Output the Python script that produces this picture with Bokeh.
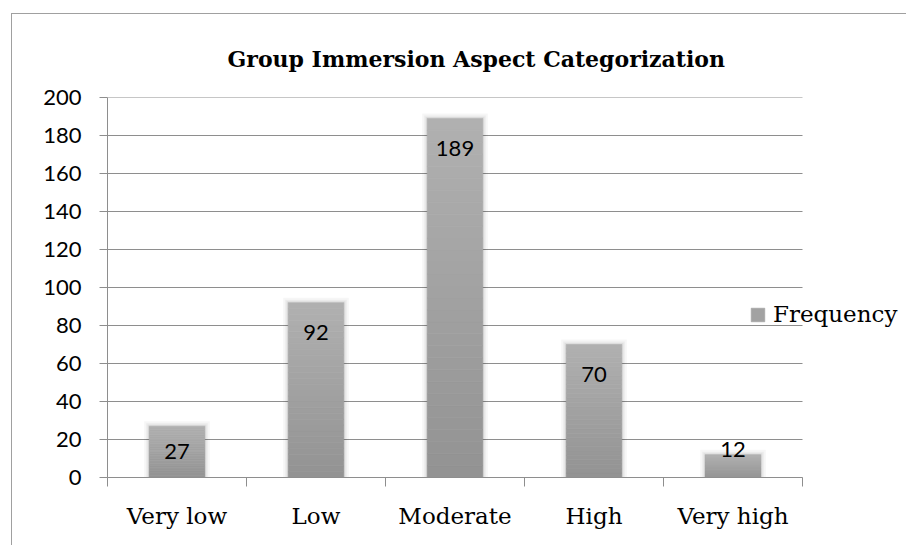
from bokeh.plotting import figure
from bokeh.models import Range1d, LinearAxis, FixedTicker, Legend, LegendItem
from bokeh.core.properties import value
from bokeh.embed import file_html
from bokeh.resources import INLINE

# ---- data ----
categories = ["Very low", "Low", "Moderate", "High", "Very high"]
frequency = [27, 92, 189, 70, 12]
y_ticks = [0, 20, 40, 60, 80, 100, 120, 140, 160, 180, 200]
title_text = "Group Immersion Aspect Categorization"
series_name = "Frequency"

# ---- layout ----
W, H = 895, 532
LEFT, RIGHT, TOP, BOTTOM = 95, 0, 83, 69
CAT_PX = 139
frame_h = H - TOP - BOTTOM
frame_w = W - LEFT - RIGHT
y_max = y_ticks[-1]
px_y = frame_h / y_max
x_end = frame_w / CAT_PX

p = figure(width=W, height=H,
           x_range=Range1d(0, x_end), y_range=Range1d(0, y_max),
           output_backend="svg", toolbar_location=None,
           x_axis_location=None, y_axis_location="left",
           min_border_left=LEFT, min_border_right=RIGHT,
           min_border_top=TOP, min_border_bottom=BOTTOM)
p.outline_line_color = None
p.background_fill_color = "white"
p.border_fill_color = "white"
# chart-area border (top and left edges visible in the window)
p.styles = {"margin-left": "12px", "margin-top": "14px",
            "box-shadow": "-1px -1px 0px 0px #a0a0a0"}

p.title.text = title_text
p.title.align = "left"
p.title.offset = 120
p.title.standoff = 52
p.title.text_font = "DejaVu Serif"
p.title.text_font_style = "bold"
p.title.text_font_size = "22px"
p.title.text_color = "black"

grid_col = "#8e8e8e"
# y axis
yax = p.yaxis[0]
yax.ticker = FixedTicker(ticks=y_ticks)
yax.axis_line_color = grid_col
yax.major_tick_line_color = grid_col
yax.major_tick_out = 8
yax.major_tick_in = 0
yax.minor_tick_line_color = None
yax.major_label_standoff = 18
yax.major_label_text_font = "Lato"
yax.major_label_text_font_size = "22px"
yax.major_label_text_color = "black"

p.xgrid.visible = False
p.ygrid.visible = False
# horizontal gridlines spanning the category area only
p.segment(x0=0, x1=len(categories), y0=y_ticks, y1=y_ticks,
          line_color=grid_col, line_width=1, level="underlay")

# x axis: labels at category centres, tick marks at category boundaries
centers = [i + 0.5 for i in range(len(categories))]
bounds = list(range(len(categories) + 1))
xax = LinearAxis(ticker=FixedTicker(ticks=centers, minor_ticks=bounds),
                 major_label_overrides={c: n for c, n in zip(centers, categories)},
                 bounds=(0, len(categories)))
xax.axis_line_color = grid_col
xax.major_tick_line_color = None
xax.major_tick_out = 9
xax.major_tick_in = 0
xax.minor_tick_line_color = grid_col
xax.minor_tick_out = 9
xax.minor_tick_in = 0
xax.major_label_standoff = 16
xax.major_label_text_font = "DejaVu Serif"
xax.major_label_text_font_size = "23px"
xax.major_label_text_color = "black"
p.add_layout(xax, "below")

# shadows
bar_w = 0.4
for dw, a in [(10, 0.035), (6, 0.045), (3, 0.055)]:
    p.vbar(x=centers, bottom=0, top=[v + dw / 2 / px_y for v in frequency],
           width=bar_w + dw / CAT_PX, fill_color="black", fill_alpha=a, line_color=None)

# gradient bars
N = 30
bot_c = (147, 147, 147)
top_c = (176, 176, 176)
mid_r = None
for k in range(N):
    t = (k + 0.5) / N
    c = "#%02x%02x%02x" % tuple(int(round(b + (tt - b) * t)) for b, tt in zip(bot_c, top_c))
    r = p.vbar(x=centers, bottom=[v * k / N for v in frequency],
               top=[v * (k + 1) / N for v in frequency],
               width=bar_w, fill_color=c, line_color=c, line_width=0.6)
    if k == N // 2:
        mid_r = r

# data labels (inside end)
offsets = []
for v in frequency:
    h = v * px_y
    offsets.append(30 if h >= 60 else (h / 2 if h >= 40 else -5))
p.text(x=centers, y=frequency, text=[str(v) for v in frequency], y_offset=offsets,
       text_align="center", text_baseline="middle", text_font=value("Lato"),
       text_font_size="22px", text_color="black")

# legend
legend = Legend(items=[LegendItem(label=series_name, renderers=[mid_r])],
                location=(642, 150), glyph_width=17, glyph_height=17,
                label_standoff=7, padding=0, margin=0, border_line_color=None,
                background_fill_alpha=0, label_text_font="DejaVu Serif",
                label_text_font_size="23px", label_text_color="black")
p.add_layout(legend)

open("out.html", "w").write(file_html(p, INLINE))
